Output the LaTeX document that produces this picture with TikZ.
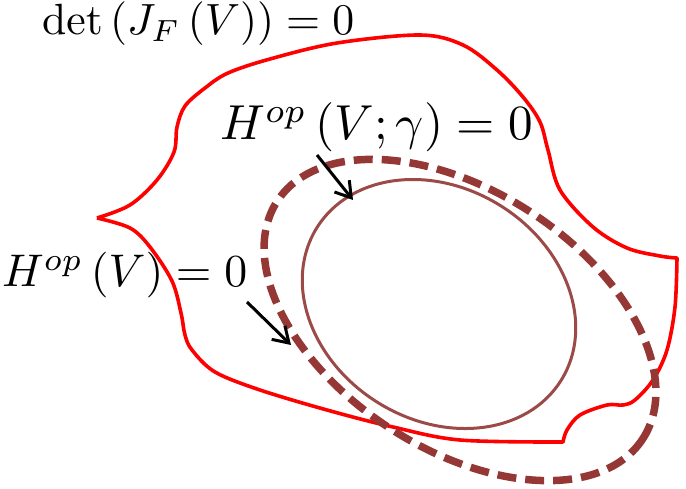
\documentclass[tikz,border=0pt]{standalone}
\usepackage{graphicx}
\usetikzlibrary{arrows.meta}
\definecolor{outred}{RGB}{255,0,0}
\definecolor{darkred}{RGB}{149,55,53}
\definecolor{solidred}{RGB}{156,74,72}
\begin{document}
\begin{tikzpicture}[x=1pt,y=-1pt,
  redline/.style={draw=outred,line width=3.6pt,line join=round},
  dashring/.style={draw=darkred,line width=7.5pt,dash pattern=on 19pt off 9pt},
  ring/.style={draw=solidred,line width=3pt},
  pointer/.style={draw=black,line width=3pt,-{Straight Barb[length=15pt,width=19pt]}},
  lbl/.style={inner sep=0pt,anchor=base west}]
\useasboundingbox (0,0) rectangle (686,489);

% outer red curve
\draw[redline] plot[smooth,tension=0.55] coordinates {(97,218) (130,205) (157,180) (174,152) (177,127) (185,106) (205,88) (228,73) (270,59) (337,43) (420,35) (463,45) (497,70) (523,97) (540,122) (548,150) (560,190) (593,227) (627,248) (660,256) (677,258)}
 -- plot[smooth,tension=0.55] coordinates {(677,258) (675,307) (667,350) (653,380) (635,400) (623,405) (607,405) (580,415) (567,430) (563,442)}
 -- plot[smooth,tension=0.55] coordinates {(563,442) (460,440) (393,427) (327,410) (260,390) (215,372) (192,350) (185,335) (181,313) (172,281) (150,247) (130,228) (97,218)};

% dashed ring
\coordinate (dc) at (460,320);
\draw[dashring, rotate around={-33:(dc)}] (dc) ellipse [x radius=218, y radius=129];

% inner solid ring
\coordinate (ic) at (439,304);
\draw[ring, rotate around={-32:(ic)}] (ic) ellipse [x radius=144, y radius=116];

% labels
\node[lbl] (det) at (42,35) {\resizebox{312pt}{!}{$\det\left(J_F\left(V\right)\right)=0$}};
\node[lbl] (hgam) at (220,140) {\resizebox{313pt}{!}{$H^{op}\left(V;\gamma\right)=0$}};
\node[lbl] (hv) at (2,287) {\resizebox{245pt}{!}{$H^{op}\left(V\right)=0$}};

% arrows
\coordinate (a1s) at (317,155);
\coordinate (a1e) at (353,200);
\coordinate (a2s) at (247,302);
\coordinate (a2e) at (291,345);
\draw[pointer] (a1s) -- (a1e);
\draw[pointer] (a2s) -- (a2e);
\end{tikzpicture}
\end{document}
